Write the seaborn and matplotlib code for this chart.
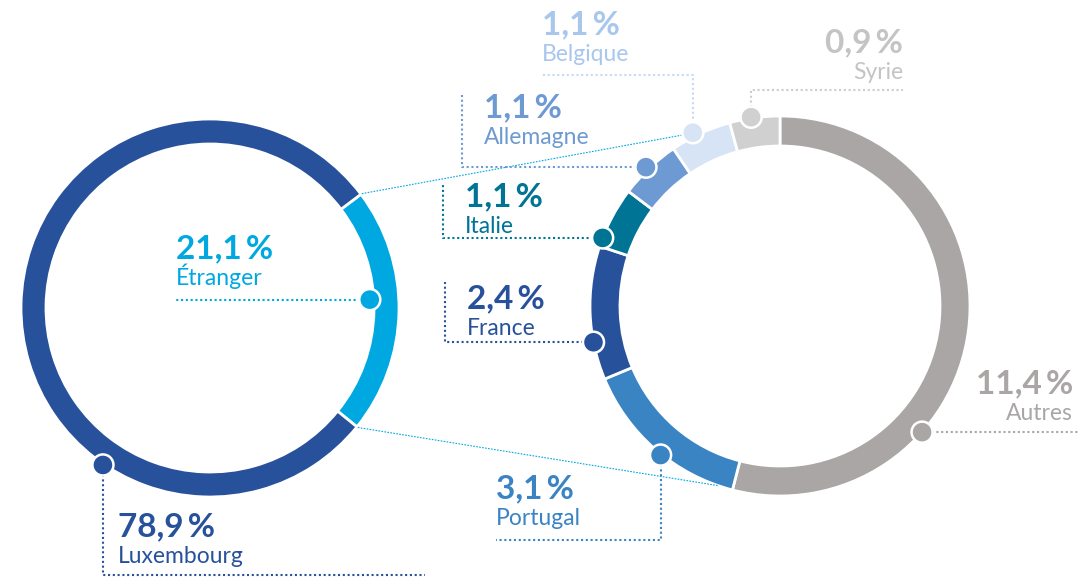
import numpy as np
import matplotlib
matplotlib.use("Agg")
import matplotlib.pyplot as plt
import seaborn as sns

# ---- data ----
left_labels = ["Étranger", "Luxembourg"]
left_values = [21.1, 78.9]
left_colors = ["#00a8e1", "#28519c"]

right_labels = ["Autres", "Portugal", "France", "Italie", "Allemagne", "Belgique", "Syrie"]
right_values = [11.4, 3.1, 2.4, 1.1, 1.1, 1.1, 0.9]
right_colors = ["#a9a6a5", "#3a84c4", "#28519c", "#007494", "#6e9ad3", "#d6e4f6", "#d0d0d0"]
right_text_colors = ["#a9a6a5", "#3a84c4", "#28519c", "#007494", "#6e9ad3", "#a9c7ec", "#c4c4c4"]

W, H = 1078, 577


def Y(py):
    # pixel row -> data y (y axis points up)
    return H - py


def fmt(v):
    return f"{v:.1f}".replace(".", ",") + "\u2009%"


sns.set_theme(style="white")
plt.rcParams["font.family"] = ["Lato", "DejaVu Sans"]

fig = plt.figure(figsize=(W / 100, H / 100), dpi=100)
ax = fig.add_axes([0, 0, 1, 1])

# ring geometry (pixels)
LC = (210, Y(308))
RC = (780, Y(306))
L_R, L_W = 189, 25
R_R, R_W = 190, 30
L_START = 37

ax.pie(left_values, colors=left_colors, radius=L_R, center=LC, startangle=L_START,
       counterclock=False, wedgeprops=dict(width=L_W, edgecolor="white", linewidth=2))
ax.pie(right_values, colors=right_colors, radius=R_R, center=RC, startangle=90,
       counterclock=False, wedgeprops=dict(width=R_W, edgecolor="white", linewidth=2))


def polar(c, r, ang):
    a = np.deg2rad(ang)
    return c[0] + r * np.cos(a), c[1] + r * np.sin(a)


# connectors between the "Étranger" slice and the right ring
etr_span = left_values[0] / 100 * 360
p1 = polar(LC, 190, L_START)
p2 = polar(RC, 196, 119)
p3 = polar(LC, 190, L_START - etr_span)
p4 = polar(RC, 190, 251)
for a, b in [(p1, p2), (p3, p4)]:
    ax.plot([a[0], b[0]], [a[1], b[1]], color="#00a8e1", lw=0.8,
            linestyle=(0, (1.5, 1.2)), zorder=1)

# label layout: dot angle / radius, polyline elbows (pixels), text anchor, alignment
layout = {
    "Étranger":   dict(c=LC, ang=3, r=160, path=[(175, None)], xy=(176, 258), ha="left"),
    "Luxembourg": dict(c=LC, ang=235.7, r=190, path=[(None, 575), (425, 575)], xy=(118, 536), ha="left"),
    "Autres":     dict(c=RC, ang=-41.6, r=190, path=[(1078, None)], xy=(1073, 393), ha="right"),
    "Portugal":   dict(c=RC, ang=231.3, r=191, path=[(None, 540), (496, 540)], xy=(496, 498), ha="left"),
    "France":     dict(c=RC, ang=191, r=190, path=[(445, None), (445, 282)], xy=(467, 308), ha="left"),
    "Italie":     dict(c=RC, ang=159, r=190, path=[(443, None), (443, 183)], xy=(465, 206), ha="left"),
    "Allemagne":  dict(c=RC, ang=134, r=193, path=[(462, None), (462, 95)], xy=(484, 117), ha="left"),
    "Belgique":   dict(c=RC, ang=116.7, r=194, path=[(None, 75), (542, 75)], xy=(542, 34), ha="left"),
    "Syrie":      dict(c=RC, ang=98.7, r=191, path=[(None, 90), (903, 90)], xy=(903, 52), ha="right"),
}

all_labels = left_labels + right_labels
all_values = left_values + right_values
dot_colors = left_colors + right_colors
text_colors = left_colors + right_text_colors
line_colors = left_colors + ["#a9a6a5", "#3a84c4", "#28519c", "#007494", "#6e9ad3", "#c6daf2", "#cccccc"]

dots_x, dots_y = [], []
for lab, val, tc, lc in zip(all_labels, all_values, text_colors, line_colors):
    L = layout[lab]
    dx, dy = polar(L["c"], L["r"], L["ang"])
    dots_x.append(dx)
    dots_y.append(dy)
    xs, ys = [dx], [dy]
    px, py = dx, dy
    for ex, ey in L["path"]:
        px = px if ex is None else ex
        py = py if ey is None else Y(ey)
        xs.append(px)
        ys.append(py)
    ax.plot(xs, ys, color=lc, lw=1.5, linestyle=(0, (1, 1.3)), zorder=2)
    tx, ty = L["xy"]
    ax.text(tx, Y(ty), fmt(val), color=tc, fontsize=24, fontweight="bold",
            ha=L["ha"], va="baseline")
    ax.text(tx, Y(ty + 27), lab, color=tc, fontsize=16.5, ha=L["ha"], va="baseline")

sns.scatterplot(x=dots_x, y=dots_y, hue=all_labels, palette=dot_colors, s=230,
                edgecolor="white", linewidth=1.8, legend=False, ax=ax, zorder=5)

ax.set_xlim(0, W)
ax.set_ylim(0, H)
ax.set_aspect("auto")
ax.axis("off")

fig.savefig("out.png", dpi=100)
